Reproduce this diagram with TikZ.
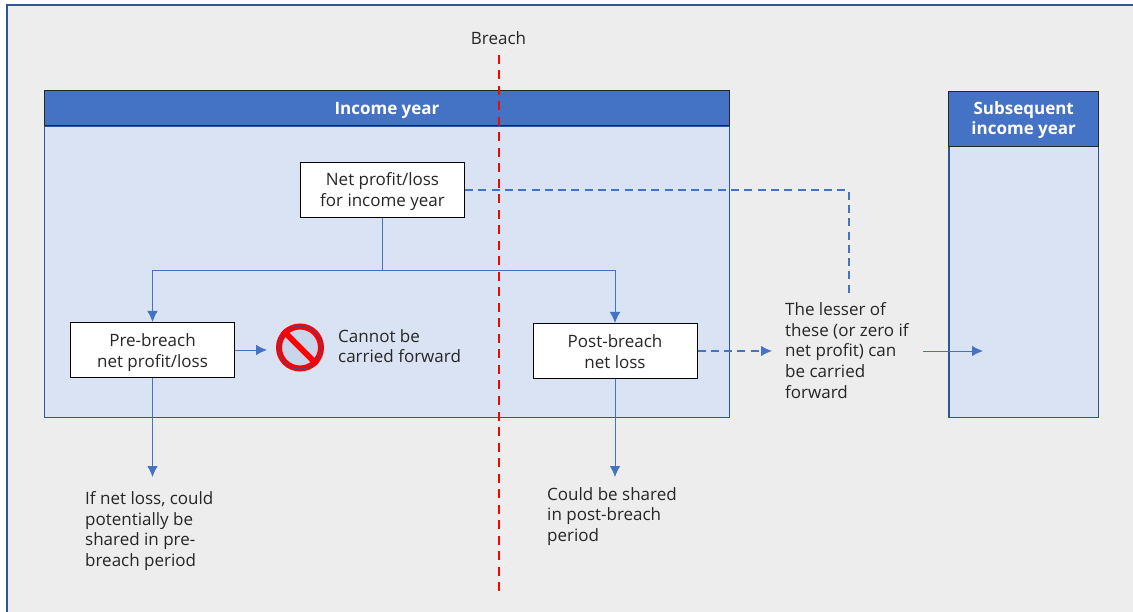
\documentclass[tikz,border=0pt]{standalone}
\usepackage{fontspec}
\setmainfont{Open Sans}
\usetikzlibrary{arrows.meta}
\definecolor{framecol}{HTML}{2F5597}
\definecolor{headcol}{HTML}{4472C4}
\definecolor{panelcol}{HTML}{DAE3F3}
\definecolor{backcol}{HTML}{EDEDED}
\newcommand{\padtext}[3]{\rule{0pt}{#1}#3\rule[-#2]{0pt}{#2}}
\tikzset{
  lbl/.style = {align=left, inner sep=0pt, anchor=north west,
    font=\fontsize{17}{20.8}\selectfont, text=black!85},
  box_w/.style = {rectangle, draw=black, fill=white, align=center, inner sep=0pt,
    line width=1pt, font=\fontsize{17}{21}\selectfont, text=black!85},
  panel/.style = {rectangle, draw=framecol, fill=panelcol, line width=1.4pt, inner sep=0pt},
  head/.style = {rectangle, draw=black!85, fill=headcol, line width=1pt, inner sep=0pt,
    align=center, text=white, font=\fontsize{17}{20}\selectfont\bfseries},
  flow/.style = {draw=headcol, line width=0.9pt, -{Latex[length=11pt,width=10.5pt]}},
  flow_d/.style = {flow, dash pattern=on 8pt off 5.3pt, line width=1.2pt}
}

\begin{document}
\begin{tikzpicture}[x=1pt,y=-1pt]
\useasboundingbox (0,0) rectangle (1133,612);
\fill[white] (0,0) rectangle (1133,612);
\fill[backcol] (7,5) rectangle (1133,612);
\draw[framecol, line width=1.4pt] (7,612) -- (7,5) -- (1133,5);

% income year
\node [panel, minimum width=685pt, minimum height=291pt] (year_a) at (387,272) {};
\node [head, minimum width=685pt, minimum height=35pt] (head_a) at (387,108.5) {\padtext{17pt}{5pt}{Income year}};
% subsequent year
\node [panel, minimum width=149.5pt, minimum height=271pt] (year_b) at (1023.7,282) {};
\node [head, minimum width=149.5pt, minimum height=55pt] (head_b) at (1023.7,119) {\padtext{17pt}{6pt}{Subsequent\\income year}};

\node [box_w, minimum width=164pt, minimum height=55pt] (net) at (382.5,190) {\padtext{18pt}{6pt}{Net profit/loss\\for income year}};
\node [box_w, minimum width=164pt, minimum height=55pt] (pre) at (152.5,350) {\padtext{20pt}{6pt}{Pre-breach\\net profit/loss}};
\node [box_w, minimum width=164pt, minimum height=55pt] (post) at (615,351) {\padtext{20pt}{6pt}{Post-breach\\net loss}};

% no entry sign
\node [circle, draw=red, fill=panelcol!90!framecol, line width=6pt, minimum size=42pt, inner sep=0pt] (stop) at (300,347.5) {};
\draw [framecol, line width=0.8pt] (stop) circle (21.5pt);
\draw [red, line width=6pt] (stop.135) -- (stop.315);

\node [lbl] (nocarry) at (338,329) {Cannot be\\carried forward};
\node [lbl] (lesser) at (785,302) {The lesser of\\these (or zero if\\net profit) can\\be carried\\forward};
\node [lbl] (sharepre) at (85,491) {If net loss, could\\potentially be\\shared in pre-\\breach period};
\node [lbl] (sharepost) at (547,487) {Could be shared\\in post-breach\\period};
\node [inner sep=0pt, font=\fontsize{17}{21}\selectfont, text=black!85] (breach) at (498.5,38) {Breach};

\coordinate (breach_a) at (499,55);
\coordinate (breach_b) at (499,592);
\coordinate (split) at (382.5,270);
\coordinate (stop_in) at (267,350);
\coordinate (pre_end) at (152.5,477);
\coordinate (post_end) at (615,477);
\coordinate (corner) at (849,190);
\coordinate (lesser_top) at (849,293);
\coordinate (post_a) at (772,351);
\coordinate (out_a) at (923,351);
\coordinate (out_b) at (983,351);

\draw [flow, -] (net) -- (split);
\draw [flow] (split) -| (pre);
\draw [flow] (split) -| (post);
\draw [flow] (pre) -- (stop_in);
\draw [flow] (pre) -- (pre_end);
\draw [flow] (post) -- (post_end);
\draw [flow_d] (post) -- (post_a);
\draw [flow_d, -] (net) -- (corner) -- (lesser_top);
\draw [flow] (out_a) -- (out_b);
\draw [red, line width=2.2pt, dash pattern=on 9pt off 6.5pt] (breach_a) -- (breach_b);
\end{tikzpicture}
\end{document}
